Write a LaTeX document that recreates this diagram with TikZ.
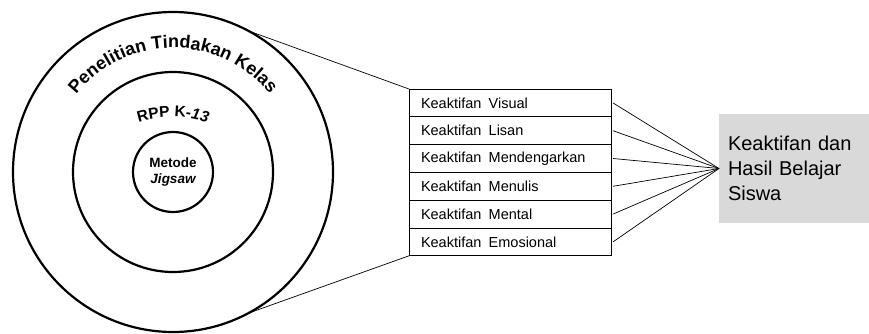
\documentclass[tikz,border=0pt]{standalone}
\usepackage{fontspec}
\setmainfont{Liberation Sans}
\usetikzlibrary{positioning,decorations.text}
\definecolor{boxgray}{HTML}{D9D9D9}
\tikzset{
  ring/.style={circle, draw, line width=2.2pt, inner sep=0pt, outer sep=0pt},
  itembox/.style={rectangle, draw, line width=0.9pt, minimum height=27.8pt,
    text width=178pt, inner xsep=12pt, inner ysep=0pt, outer sep=0pt,
    align=left, font=\fontsize{14.5}{17}\selectfont},
  resultbox/.style={rectangle, fill=boxgray, minimum width=150pt, minimum height=109pt,
    text width=132pt, inner xsep=9pt, outer sep=0pt, align=left,
    font=\fontsize{20}{25}\selectfont},
  link/.style={line width=0.7pt}
}
\newcommand{\ktf}[1]{Keaktifan\enspace #1}
\begin{document}
\begin{tikzpicture}[x=1pt, y=1pt]
\useasboundingbox (0,0) rectangle (869,333);

% circles
\node[ring, minimum size=320pt] (outer) at (173,161) {};
\node[ring, minimum size=200pt] (middle) at (173,161) {};
\node[ring, minimum size=80pt] (inner) at (173,161) {};

\node[align=center, font=\bfseries\fontsize{13.5}{16}\selectfont] (method) at (inner.center) {Metode\\\itshape Jigsaw};

\path[decorate, decoration={text along path, text align=center,
    text={|\bfseries\fontsize{18}{21}\selectfont|Penelitian Tindakan Kelas}}]
    (outer.center) ++(150:124) arc[start angle=150, end angle=30, radius=124];
\path[decorate, decoration={text along path, text align=center,
    text={|\bfseries\fontsize{15.5}{18}\selectfont|RPP K-|\bfseries\itshape\fontsize{15.5}{18}\selectfont|13}}]
    (173,106) ++(115:110) arc[start angle=115, end angle=65, radius=110];

% indicators
\node[itembox] (R1) at (510,230.1) {\ktf{Visual}};
\node[itembox, below=0pt of R1] (R2) {\ktf{Lisan}};
\node[itembox, below=0pt of R2] (R3) {\ktf{Mendengarkan}};
\node[itembox, below=0pt of R3] (R4) {\ktf{Menulis}};
\node[itembox, below=0pt of R4] (R5) {\ktf{Mental}};
\node[itembox, below=0pt of R5] (R6) {\ktf{Emosional}};

\node[resultbox] (result) at (794,164.5) {Keaktifan dan\\Hasil Belajar\\Siswa};

\draw[link] (outer.62.6) -- (R1.north west);
\draw[link] (outer.-62.6) -- (R6.south west);
\foreach \i in {1,...,6}
    \draw[link] ([xshift=2pt]R\i.east) -- (result.west);
\end{tikzpicture}
\end{document}
